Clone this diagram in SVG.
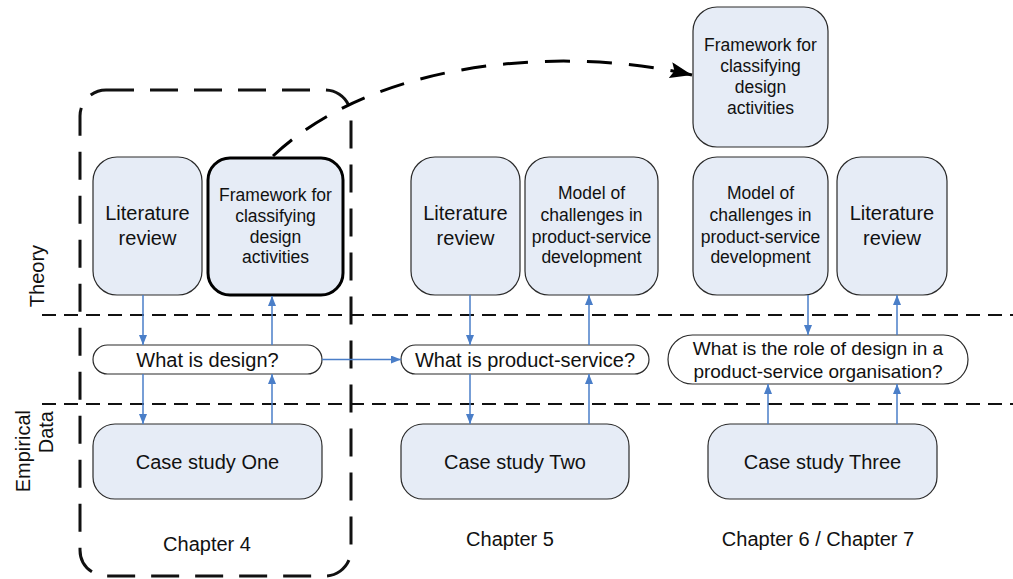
<svg xmlns="http://www.w3.org/2000/svg" width="1013" height="579" viewBox="0 0 1013 579">
<defs>
<style>
.n{fill:#E6ECF6;stroke:#2a2a2a;stroke-width:1.2}
.p{fill:#ffffff;stroke:#2a2a2a;stroke-width:1.2}
.t{font-family:"Liberation Sans",Arial,sans-serif;fill:#111;text-anchor:middle}
.b{font-size:20px}
.s{font-size:17.5px}
.a{stroke:#4A7EC8;stroke-width:1.5;fill:none;marker-end:url(#ah)}
.d{stroke:#111;stroke-width:2;stroke-dasharray:14 8;fill:none}
</style>
<marker id="ah" markerWidth="10" markerHeight="8" refX="10" refY="4" orient="auto" markerUnits="userSpaceOnUse">
<path d="M0,0 L10,4 L0,8 Z" fill="#4A7EC8"/>
</marker>
<marker id="bh" markerWidth="22" markerHeight="16" refX="22" refY="8" orient="auto" markerUnits="userSpaceOnUse">
<path d="M0,0 L22,8 L0,16 L4,8 Z" fill="#000"/>
</marker>
</defs>
<rect width="1013" height="579" fill="#ffffff"/>
<g id="lanes">
<line class="d" x1="42" y1="315" x2="1013" y2="315"/>
<line class="d" x1="42" y1="404" x2="1013" y2="404"/>
<text class="t b" transform="translate(44,276) rotate(-90)">Theory</text>
<text class="t b" text-anchor="end" style="text-anchor:end" transform="translate(30,410) rotate(-90)">Empirical</text>
<text class="t b" style="text-anchor:end" transform="translate(53,411) rotate(-90)">Data</text>
</g>
<g id="chapter4-box">
<rect x="80" y="90" width="271" height="486" rx="26" fill="none" stroke="#111" stroke-width="3" stroke-dasharray="28 16"/>
</g>
<g id="ch4-lit">
<rect class="n" x="93" y="157" width="109" height="138" rx="24"/>
<text class="t b" x="147.5" y="220">Literature</text>
<text class="t b" x="147.5" y="245">review</text>
</g>
<g id="ch4-framework">
<rect class="n" x="208" y="158" width="135" height="137" rx="22" style="stroke:#000;stroke-width:3"/>
<text class="t s" x="275.5" y="201">Framework for</text>
<text class="t s" x="275.5" y="222">classifying</text>
<text class="t s" x="275.5" y="243">design</text>
<text class="t s" x="275.5" y="263">activities</text>
</g>
<g id="ch4-q">
<rect class="p" x="93" y="345" width="229" height="29" rx="14.5"/>
<text class="t b" x="207.5" y="366.5">What is design?</text>
</g>
<g id="ch4-case">
<rect class="n" x="93" y="424" width="229" height="75" rx="22"/>
<text class="t b" x="207.5" y="469">Case study One</text>
</g>
<g id="ch5-lit">
<rect class="n" x="411" y="157" width="109" height="138" rx="24"/>
<text class="t b" x="465.5" y="220">Literature</text>
<text class="t b" x="465.5" y="245">review</text>
</g>
<g id="ch5-model">
<rect class="n" x="525" y="157" width="133" height="138" rx="24"/>
<text class="t s" x="591.5" y="199">Model of</text>
<text class="t s" x="591.5" y="221">challenges in</text>
<text class="t s" x="591.5" y="243">product-service</text>
<text class="t s" x="591.5" y="263">development</text>
</g>
<g id="ch5-q">
<rect class="p" x="401" y="345" width="248" height="29" rx="14.5"/>
<text class="t b" x="525" y="366.5">What is product-service?</text>
</g>
<g id="ch5-case">
<rect class="n" x="401" y="424" width="228" height="75" rx="22"/>
<text class="t b" x="515" y="469">Case study Two</text>
</g>
<g id="ch6-framework">
<rect class="n" x="693" y="7" width="135" height="140" rx="24"/>
<text class="t s" x="760.5" y="51">Framework for</text>
<text class="t s" x="760.5" y="72">classifying</text>
<text class="t s" x="760.5" y="93">design</text>
<text class="t s" x="760.5" y="114">activities</text>
</g>
<g id="ch6-model">
<rect class="n" x="693" y="157" width="135" height="138" rx="24"/>
<text class="t s" x="760.5" y="199">Model of</text>
<text class="t s" x="760.5" y="221">challenges in</text>
<text class="t s" x="760.5" y="243">product-service</text>
<text class="t s" x="760.5" y="263">development</text>
</g>
<g id="ch6-lit">
<rect class="n" x="837" y="157" width="110" height="138" rx="24"/>
<text class="t b" x="892" y="220">Literature</text>
<text class="t b" x="892" y="245">review</text>
</g>
<g id="ch6-q">
<rect class="p" x="668" y="335" width="300" height="49" rx="24.5"/>
<text class="t" x="818" y="355" style="font-size:19px">What is the role of design in a</text>
<text class="t" x="818" y="378" style="font-size:19px">product-service organisation?</text>
</g>
<g id="ch6-case">
<rect class="n" x="708" y="424" width="229" height="75" rx="22"/>
<text class="t b" x="822.5" y="469">Case study Three</text>
</g>
<g id="chapter-labels">
<text class="t b" x="207" y="551">Chapter 4</text>
<text class="t b" x="510" y="546">Chapter 5</text>
<text class="t b" x="818" y="546">Chapter 6 / Chapter 7</text>
</g>
<g id="connectors">
<line class="a" x1="143" y1="295" x2="143" y2="345"/>
<line class="a" x1="143" y1="374" x2="143" y2="424"/>
<line class="a" x1="272" y1="424" x2="272" y2="374"/>
<line class="a" x1="272" y1="345" x2="272" y2="296"/>
<line class="a" x1="322" y1="359.5" x2="401" y2="359.5"/>
<line class="a" x1="470" y1="295" x2="470" y2="345"/>
<line class="a" x1="470" y1="374" x2="470" y2="424"/>
<line class="a" x1="589" y1="424" x2="589" y2="374"/>
<line class="a" x1="589" y1="345" x2="589" y2="295"/>
<line class="a" x1="808" y1="295" x2="808" y2="335"/>
<line class="a" x1="897" y1="335" x2="897" y2="295"/>
<line class="a" x1="768" y1="424" x2="768" y2="384"/>
<line class="a" x1="897" y1="424" x2="897" y2="384"/>
<path d="M273,156 C375,60 560,45 692,75" fill="none" stroke="#000" stroke-width="3" stroke-dasharray="25 17" marker-end="url(#bh)"/>
</g>
</svg>
